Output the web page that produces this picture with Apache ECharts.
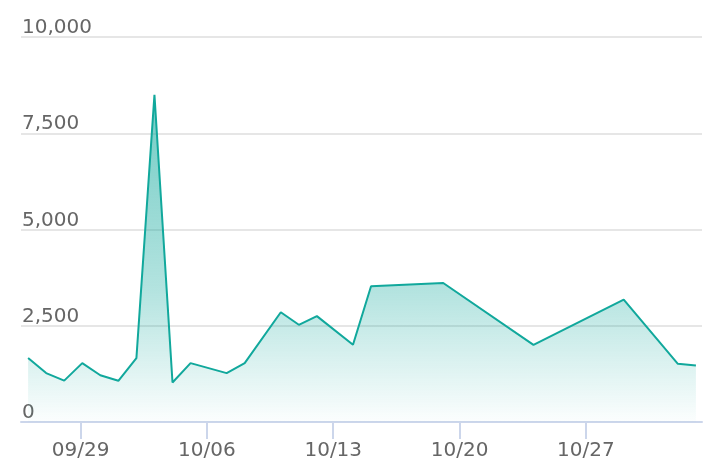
<!DOCTYPE html>
<html>
<head>
<meta charset="utf-8">
<script src="https://cdn.jsdelivr.net/npm/echarts@6/dist/echarts.min.js"></script>
<style>
  html, body { margin: 0; padding: 0; background: #fff; }
  #chart { width: 714px; height: 476px; }
</style>
</head>
<body>
<div id="chart"></div>
<script>
// daily values (days without a value are simply skipped)
const dates = [
  "2019-09-26", "2019-09-27", "2019-09-28", "2019-09-29", "2019-09-30",
  "2019-10-01", "2019-10-02", "2019-10-03", "2019-10-04", "2019-10-05",
  "2019-10-07", "2019-10-08", "2019-10-10", "2019-10-11", "2019-10-12",
  "2019-10-14", "2019-10-15", "2019-10-19", "2019-10-24", "2019-10-29",
  "2019-11-01", "2019-11-02",
];
const values = [
  1660, 1270, 1075, 1530, 1215,
  1070, 1660, 8500, 1025, 1530,
  1270, 1530, 2850, 2525, 2750,
  2005, 3525, 3610, 2005, 3180,
  1510, 1465,
];
const tickDates = ["2019-09-29", "2019-10-06", "2019-10-13", "2019-10-20", "2019-10-27"];
const yTicks = [0, 2500, 5000, 7500, 10000];

// readings are stamped a couple of hours after midnight, the ticks sit on midnight
const toTime = (d) => new Date(d + "T00:00:00Z").getTime();
const toPointTime = (d) => new Date(d + "T02:15:00Z").getTime();
const pad = (n) => (n < 10 ? "0" + n : "" + n);

const chart = echarts.init(document.getElementById("chart"));
const option = {
  animation: false,
  grid: {
    left: 21,
    right: 12,
    top: 37,
    bottom: 54,
  },
  xAxis: {
    // timestamps on a plain value axis, ticks only on the weekly dates
    type: "value",
    min: Date.UTC(2019, 8, 25, 16, 48),
    max: Date.UTC(2019, 10, 2, 10, 20),
    axisLine: {
      lineStyle: { color: "#ccd6eb", width: 2 },
    },
    axisTick: {
      customValues: tickDates.map(toTime),
      length: 17,
      lineStyle: { color: "#ccd6eb", width: 2 },
    },
    axisLabel: {
      customValues: tickDates.map(toTime),
      formatter: (v) => {
        const d = new Date(v);
        return pad(d.getUTCMonth() + 1) + "/" + pad(d.getUTCDate());
      },
      color: "#666",
      fontSize: 20,
      fontFamily: "DejaVu Sans",
      margin: 19,
    },
    splitLine: { show: false },
  },
  yAxis: {
    type: "value",
    min: yTicks[0],
    max: yTicks[yTicks.length - 1],
    interval: 2500,
    axisLine: { show: false },
    axisTick: { show: false },
    axisLabel: {
      inside: true,
      margin: 1,
      verticalAlign: "bottom",
      padding: [0, 0, -1, 0],
      color: "#666",
      fontSize: 20,
      fontFamily: "DejaVu Sans",
      formatter: (v) => v.toLocaleString("en-US"),
    },
    splitLine: {
      lineStyle: { color: "#e6e6e6", width: 2 },
    },
  },
  series: [
    {
      type: "line",
      data: dates.map((d, i) => [toPointTime(d), values[i]]),
      showSymbol: false,
      lineStyle: { color: "#11a89c", width: 2 },
      itemStyle: { color: "#11a89c" },
      areaStyle: {
        color: new echarts.graphic.LinearGradient(0, 0, 0, 1, [
          { offset: 0, color: "rgba(17, 168, 156, 0.85)" },
          { offset: 0.6, color: "rgba(17, 168, 156, 0.45)" },
          { offset: 1, color: "rgba(17, 168, 156, 0.02)" },
        ]),
      },
    },
  ],
};
chart.setOption(option);
</script>
</body>
</html>
